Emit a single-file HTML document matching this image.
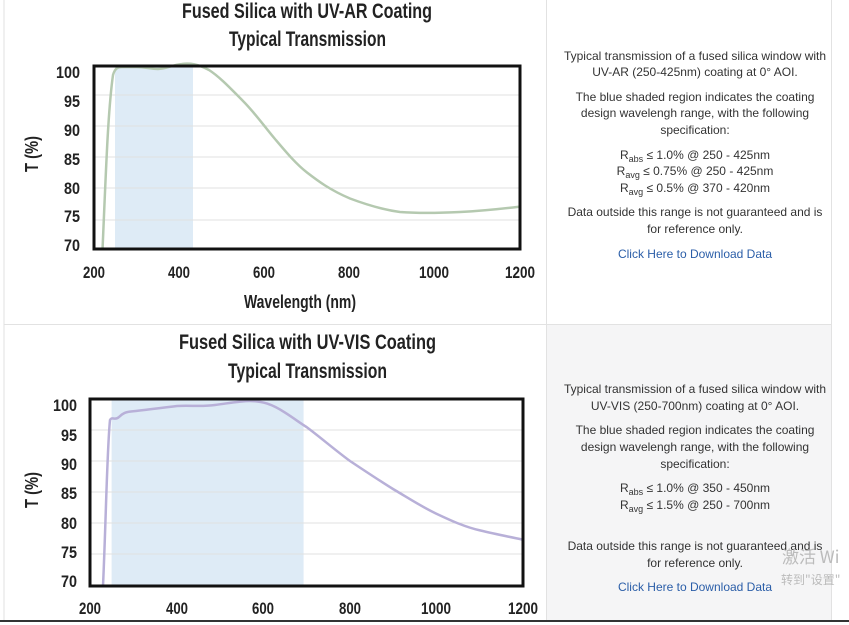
<!DOCTYPE html><html><head><style>body{margin:0;background:#fff}svg{display:block}
.t{font-family:"Liberation Sans",sans-serif;font-weight:bold;fill:#222}
.p{font-family:"Liberation Sans",sans-serif;font-size:12px;fill:#333;text-anchor:middle}
</style></head><body>
<svg width="849" height="625" viewBox="0 0 849 625" xmlns="http://www.w3.org/2000/svg">
<rect x="546" y="324" width="285" height="296" fill="#f5f5f6"/>
<g stroke="#e2e2e2" stroke-width="1"><line x1="4" y1="0" x2="4" y2="620"/><line x1="546.5" y1="0" x2="546.5" y2="620"/><line x1="831.5" y1="0" x2="831.5" y2="620"/><line x1="4" y1="324.5" x2="831" y2="324.5"/></g>
<line x1="0" y1="621" x2="849" y2="621" stroke="#333" stroke-width="2"/>
<!-- chart 1 -->
<text class="t" x="182" y="18" font-size="21" textLength="250" lengthAdjust="spacingAndGlyphs">Fused Silica with UV-AR Coating</text>
<text class="t" x="229" y="46" font-size="21" textLength="157" lengthAdjust="spacingAndGlyphs">Typical Transmission</text>
<rect x="115" y="66" width="78" height="183" fill="#deebf6"/>
<g stroke="#e0e0e0"><line x1="94" y1="95" x2="520" y2="95"/><line x1="94" y1="126" x2="520" y2="126"/><line x1="94" y1="157" x2="520" y2="157"/><line x1="94" y1="188" x2="520" y2="188"/><line x1="94" y1="220" x2="520" y2="220"/></g>
<path fill="none" stroke="#b5c9b0" stroke-width="2.5" d="M102.5,250 C106,170 108,110 113,75 C115,68 118,67 122,67 L136.6,67 C146,67 150,69 158,69 C166,69 172,65 182,64 C190,63 198,64 209,70 C220,77 232,90 243,101 C255,113 264,126 275,139 C286,152 296,164 307,172.5 C318,181 330,190 350,198.5 C370,206 385,210 400,212 C420,213.5 440,213 460,212 C480,211 500,209 520,206.6"/>
<rect x="94" y="66" width="426" height="183" fill="none" stroke="#111" stroke-width="3"/>
<g class="t" font-size="17" text-anchor="end"><text x="80" y="78" textLength="24" lengthAdjust="spacingAndGlyphs">100</text><text x="80" y="107" textLength="16" lengthAdjust="spacingAndGlyphs">95</text><text x="80" y="136" textLength="16" lengthAdjust="spacingAndGlyphs">90</text><text x="80" y="165" textLength="16" lengthAdjust="spacingAndGlyphs">85</text><text x="80" y="194" textLength="16" lengthAdjust="spacingAndGlyphs">80</text><text x="80" y="222" textLength="16" lengthAdjust="spacingAndGlyphs">75</text><text x="80" y="251" textLength="16" lengthAdjust="spacingAndGlyphs">70</text></g>
<g class="t" font-size="17"><text x="83" y="278" textLength="22" lengthAdjust="spacingAndGlyphs">200</text><text x="168" y="278" textLength="22" lengthAdjust="spacingAndGlyphs">400</text><text x="253" y="278" textLength="22" lengthAdjust="spacingAndGlyphs">600</text><text x="338" y="278" textLength="22" lengthAdjust="spacingAndGlyphs">800</text><text x="419" y="278" textLength="30" lengthAdjust="spacingAndGlyphs">1000</text><text x="505" y="278" textLength="30" lengthAdjust="spacingAndGlyphs">1200</text></g>
<text class="t" x="244" y="308" font-size="18" textLength="112" lengthAdjust="spacingAndGlyphs">Wavelength (nm)</text>
<text class="t" font-size="18" transform="translate(38,172) rotate(-90)" textLength="36" lengthAdjust="spacingAndGlyphs">T (%)</text>
<!-- chart 2 -->
<text class="t" x="179" y="349" font-size="21" textLength="257" lengthAdjust="spacingAndGlyphs">Fused Silica with UV-VIS Coating</text>
<text class="t" x="228" y="378" font-size="21" textLength="159" lengthAdjust="spacingAndGlyphs">Typical Transmission</text>
<rect x="111.6" y="399" width="192" height="186" fill="#deebf6"/>
<g stroke="#e0e0e0"><line x1="90" y1="430" x2="523" y2="430"/><line x1="90" y1="461" x2="523" y2="461"/><line x1="90" y1="492" x2="523" y2="492"/><line x1="90" y1="523" x2="523" y2="523"/><line x1="90" y1="554" x2="523" y2="554"/></g>
<path fill="none" stroke="#b8b0d8" stroke-width="2.5" d="M103,586 C106,520 107,450 110,420 C112,416 115,421 119,417 C123,413 126,412 131,411.5 C145,410 160,408 177,406 C190,405 200,407 215,405 C230,403 240,401 250,401 C262,401 272,404 285,412.6 C295,419 300,423 306.5,427 C320,437 335,450 350,461 C365,471 380,481 393,489 C410,499 422,507 436.4,513.7 C452,521 465,527 480,530.4 C495,534 510,537 523,539.7"/>
<rect x="90" y="399" width="433" height="187" fill="none" stroke="#111" stroke-width="3"/>
<g class="t" font-size="17" text-anchor="end"><text x="77" y="411" textLength="24" lengthAdjust="spacingAndGlyphs">100</text><text x="77" y="441" textLength="16" lengthAdjust="spacingAndGlyphs">95</text><text x="77" y="470" textLength="16" lengthAdjust="spacingAndGlyphs">90</text><text x="77" y="499" textLength="16" lengthAdjust="spacingAndGlyphs">85</text><text x="77" y="529" textLength="16" lengthAdjust="spacingAndGlyphs">80</text><text x="77" y="558" textLength="16" lengthAdjust="spacingAndGlyphs">75</text><text x="77" y="587" textLength="16" lengthAdjust="spacingAndGlyphs">70</text></g>
<g class="t" font-size="17"><text x="79" y="614" textLength="22" lengthAdjust="spacingAndGlyphs">200</text><text x="166" y="614" textLength="22" lengthAdjust="spacingAndGlyphs">400</text><text x="252" y="614" textLength="22" lengthAdjust="spacingAndGlyphs">600</text><text x="339" y="614" textLength="22" lengthAdjust="spacingAndGlyphs">800</text><text x="421" y="614" textLength="30" lengthAdjust="spacingAndGlyphs">1000</text><text x="508" y="614" textLength="30" lengthAdjust="spacingAndGlyphs">1200</text></g>
<text class="t" font-size="18" transform="translate(38,508) rotate(-90)" textLength="36" lengthAdjust="spacingAndGlyphs">T (%)</text>
<!-- text 1 -->
<text class="p" x="695" y="60">Typical transmission of a fused silica window with</text>
<text class="p" x="695" y="76">UV-AR (250-425nm) coating at 0° AOI.</text>
<text class="p" x="695" y="101">The blue shaded region indicates the coating</text>
<text class="p" x="695" y="117">design wavelengh range, with the following</text>
<text class="p" x="695" y="134">specification:</text>
<text class="p" x="695" y="159">R<tspan font-size="9" dy="3">abs</tspan><tspan dy="-3"> ≤ 1.0% @ 250 - 425nm</tspan></text>
<text class="p" x="695" y="175">R<tspan font-size="9" dy="3">avg</tspan><tspan dy="-3"> ≤ 0.75% @ 250 - 425nm</tspan></text>
<text class="p" x="695" y="192">R<tspan font-size="9" dy="3">avg</tspan><tspan dy="-3"> ≤ 0.5% @ 370 - 420nm</tspan></text>
<text class="p" x="695" y="216">Data outside this range is not guaranteed and is</text>
<text class="p" x="695" y="233">for reference only.</text>
<text class="p" x="695" y="258" style="fill:#2b5ea8">Click Here to Download Data</text>
<!-- text 2 -->
<text class="p" x="695" y="393">Typical transmission of a fused silica window with</text>
<text class="p" x="695" y="410">UV-VIS (250-700nm) coating at 0° AOI.</text>
<text class="p" x="695" y="434">The blue shaded region indicates the coating</text>
<text class="p" x="695" y="451">design wavelengh range, with the following</text>
<text class="p" x="695" y="468">specification:</text>
<text class="p" x="695" y="492">R<tspan font-size="9" dy="3">abs</tspan><tspan dy="-3"> ≤ 1.0% @ 350 - 450nm</tspan></text>
<text class="p" x="695" y="509">R<tspan font-size="9" dy="3">avg</tspan><tspan dy="-3"> ≤ 1.5% @ 250 - 700nm</tspan></text>
<text class="p" x="695" y="550">Data outside this range is not guaranteed and is</text>
<text class="p" x="695" y="567">for reference only.</text>
<text class="p" x="695" y="591" style="fill:#2b5ea8">Click Here to Download Data</text>
<text x="782" y="563" font-family="Noto Sans CJK SC,sans-serif" font-size="17" fill="#bbb">激活 Wi</text>
<text x="781" y="584" font-family="Noto Sans CJK SC,sans-serif" font-size="12" fill="#bbb">转到"设置"</text>
</svg></body></html>
